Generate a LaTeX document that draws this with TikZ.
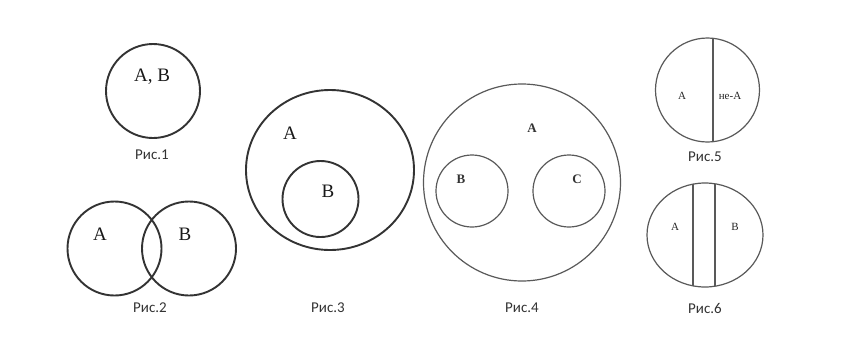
\documentclass[tikz,border=0pt]{standalone}
\usepackage{fontspec}
\setmainfont{Liberation Serif}
\newfontfamily\capfont{Carlito}
\usetikzlibrary{positioning}

\begin{document}
\begin{tikzpicture}[x=1pt,y=-1pt,
	ring/.style={draw=black!80,line width=1.9pt},
	thinring/.style={draw=black!65,line width=1.2pt},
	lbl/.style={font=\fontsize{19}{19}\selectfont,text=black!90},
	smalllbl/.style={font=\fontsize{13}{13}\selectfont\bfseries,text=black!80},
	tinylbl/.style={font=\fontsize{11}{11}\selectfont,text=black!85},
	figcap/.style={font=\capfont\fontsize{15}{15}\selectfont,text=black!80}]
		
		\useasboundingbox[fill=white] (0,0) rectangle (852,354);
		
		% Рис.1
		\draw[ring] (153,91) circle (47);
		\node[lbl] (ab1) at (152,77) {A, B};
		\node[figcap] (cap1) at (152,155) {Рис.1};
		
		% Рис.2
		\draw[ring] (114.5,248.5) circle (47);
		\draw[ring] (189,248.5) circle (47);
		\node[lbl] (a2) at (100,234) {A};
		\node[lbl] (b2) at (185,234) {B};
		\node[figcap] (cap2) at (150,308) {Рис.2};
		
		% Рис.3
		\draw[ring] (330,170) ellipse [x radius=84,y radius=80];
		\draw[ring] (320.5,199) circle (38);
		\node[lbl] (a3) at (290,133) {A};
		\node[lbl] (b3) at (328,191) {B};
		\node[figcap] (cap3) at (328,308) {Рис.3};
		
		% Рис.4
		\draw[thinring] (522,182.5) circle (98.5);
		\draw[thinring] (472,191) circle (36);
		\draw[thinring] (569,191) circle (36);
		\node[smalllbl] (a4) at (532,128) {A};
		\node[smalllbl] (b4) at (461,179) {B};
		\node[smalllbl] (c4) at (577,179) {C};
		\node[figcap] (cap4) at (522,308) {Рис.4};
		
		% Рис.5
		\draw[thinring] (707.5,90) circle (52);
		\begin{scope}
			\clip (707.5,90) circle (52);
			\draw[thinring] (713,30) -- (713,150);
		\end{scope}
		\node[tinylbl] (a5) at (682,96) {A};
		\node[tinylbl] (nota5) at (730,96) {не-А};
		\node[figcap] (cap5) at (705,157) {Рис.5};
		
		% Рис.6
		\draw[thinring] (705,235) ellipse [x radius=58,y radius=52];
		\begin{scope}
			\clip (705,235) ellipse [x radius=58,y radius=52];
			\draw[thinring] (693,175) -- (693,295);
			\draw[thinring] (715,175) -- (715,295);
		\end{scope}
		\node[tinylbl] (a6) at (675,227) {A};
		\node[tinylbl] (b6) at (735,227) {B};
		\node[figcap] (cap6) at (705,308) {Рис.6};
		
	\end{tikzpicture}
\end{document}
